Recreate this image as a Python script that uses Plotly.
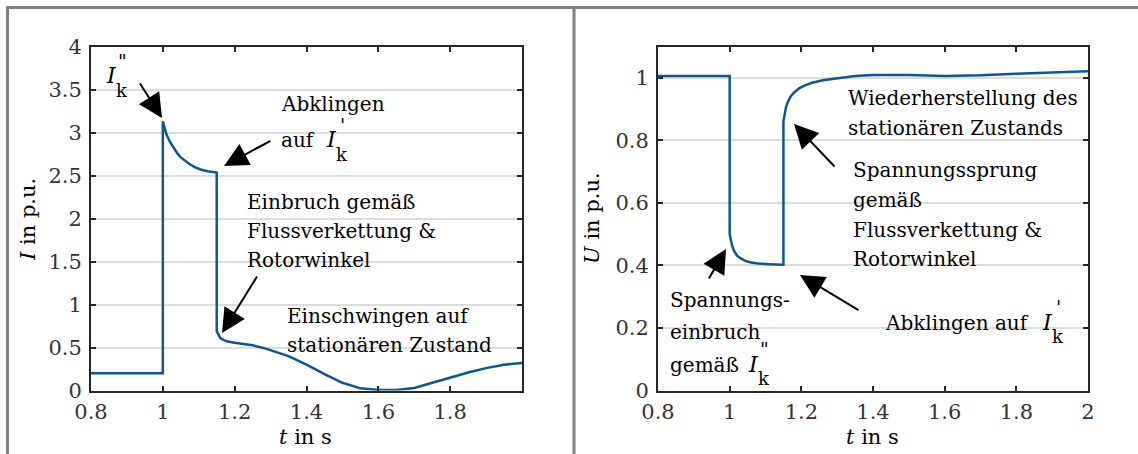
import plotly.graph_objects as go

# ---------------- data ----------------
t_current = [0.8, 0.9, 1.0, 1.0, 1.005, 1.01, 1.02, 1.03, 1.04, 1.05, 1.06, 1.075, 1.09, 1.105,
             1.125, 1.15, 1.15, 1.155, 1.16, 1.17, 1.18, 1.2, 1.22, 1.25, 1.28, 1.3, 1.35, 1.4,
             1.45, 1.5, 1.55, 1.6, 1.65, 1.7, 1.75, 1.8, 1.85, 1.9, 1.95, 2.0]
i_current = [0.2, 0.2, 0.2, 3.13, 3.05, 2.98, 2.89, 2.82, 2.76, 2.71, 2.675, 2.63, 2.595, 2.57,
             2.55, 2.535, 0.69, 0.64, 0.61, 0.585, 0.57, 0.555, 0.545, 0.525, 0.495, 0.47, 0.40, 0.30,
             0.19, 0.09, 0.025, 0.005, 0.005, 0.03, 0.09, 0.15, 0.21, 0.26, 0.30, 0.32]

t_voltage = [0.8, 0.9, 1.0, 1.0, 1.003, 1.007, 1.012, 1.02, 1.03, 1.045, 1.06, 1.08, 1.11, 1.15,
             1.15, 1.153, 1.157, 1.162, 1.17, 1.18, 1.195, 1.21, 1.23, 1.26, 1.3, 1.35, 1.4, 1.5,
             1.6, 1.7, 1.8, 1.9, 2.0]
u_voltage = [1.006, 1.006, 1.006, 0.50, 0.48, 0.462, 0.447, 0.432, 0.423, 0.414, 0.409, 0.406, 0.404, 0.402,
             0.86, 0.885, 0.905, 0.922, 0.94, 0.953, 0.967, 0.976, 0.984, 0.992, 0.999, 1.006, 1.009, 1.009,
             1.006, 1.008, 1.013, 1.017, 1.021]

x_ticks_left = [0.8, 1.0, 1.2, 1.4, 1.6, 1.8]
x_ticks_right = [0.8, 1.0, 1.2, 1.4, 1.6, 1.8, 2.0]
y_ticks_left = [0, 0.5, 1, 1.5, 2, 2.5, 3, 3.5, 4]
y_ticks_right = [0, 0.2, 0.4, 0.6, 0.8, 1.0]

# ---------------- layout helpers ----------------
W, H = 1138, 454
LINE_COLOR = "#0f5591"
AX_COLOR = "#262626"
GRID_COLOR = "#dcdcdc"
SERIF = "DejaVu Serif"
ANN_SIZE = 20
TICK_SIZE = 21
SUP_SIZE = 19
SUB_SIZE = 18


def px(x):
    return x / W


def py(y):
    return 1 - y / H


fig = go.Figure()
fig.add_trace(go.Scatter(x=t_current, y=i_current, mode="lines",
                         line=dict(color=LINE_COLOR, width=2.5), xaxis="x", yaxis="y",
                         showlegend=False, hoverinfo="skip"))
fig.add_trace(go.Scatter(x=t_voltage, y=u_voltage, mode="lines",
                         line=dict(color=LINE_COLOR, width=2.5), xaxis="x2", yaxis="y2",
                         showlegend=False, hoverinfo="skip"))

axis_common = dict(showline=True, linecolor=AX_COLOR, linewidth=2, mirror="ticks",
                   ticks="inside", ticklen=5, tickwidth=2, tickcolor=AX_COLOR,
                   zeroline=False, tickfont=dict(family=SERIF, size=TICK_SIZE, color="#333333"))

y_dom = [py(390.5), py(46.5)]
fig.update_layout(
    width=W, height=H, margin=dict(l=0, r=0, t=0, b=0, autoexpand=False),
    paper_bgcolor="white", plot_bgcolor="white",
    xaxis=dict(domain=[px(91), px(522)], range=[0.8, 2.0], tickvals=x_ticks_left,
               showgrid=False, anchor="y", ticklabelstandoff=1, **axis_common),
    yaxis=dict(domain=y_dom, range=[0, 4], tickvals=y_ticks_left, showgrid=True,
               gridcolor=GRID_COLOR, gridwidth=2, anchor="x", ticklabelstandoff=3, **axis_common),
    xaxis2=dict(domain=[px(658), px(1088)], range=[0.8, 2.0], tickvals=x_ticks_right,
                showgrid=False, anchor="y2", ticklabelstandoff=1, **axis_common),
    yaxis2=dict(domain=y_dom, range=[0, 1.1], tickvals=y_ticks_right, showgrid=True,
                gridcolor=GRID_COLOR, gridwidth=2, anchor="x2", ticklabelstandoff=3, **axis_common),
)

# outer frame (gray)
FRAME = "#808080"
fig.add_shape(type="line", xref="paper", yref="paper", x0=px(6), x1=1, y0=py(7.5), y1=py(7.5),
              line=dict(color=FRAME, width=3))
fig.add_shape(type="line", xref="paper", yref="paper", x0=px(7.5), x1=px(7.5), y0=py(6), y1=0,
              line=dict(color=FRAME, width=3))
fig.add_shape(type="line", xref="paper", yref="paper", x0=px(574), x1=px(574), y0=py(6), y1=0,
              line=dict(color=FRAME, width=3))

annotations = []


def text(s, x, y, size=ANN_SIZE, xanchor="left", italic=False, angle=0):
    if italic:
        s = "<i>" + s + "</i>"
    annotations.append(dict(text=s, xref="paper", yref="paper", x=px(x), y=py(y),
                            xanchor=xanchor, yanchor="middle", showarrow=False, textangle=angle,
                            borderpad=0,
                            font=dict(family=SERIF, size=size, color="black")))


def arrow(tail, tip):
    annotations.append(dict(text="", xref="paper", yref="paper", x=px(tip[0]), y=py(tip[1]),
                            ax=tail[0] - tip[0], ay=tail[1] - tip[1], showarrow=True,
                            arrowhead=2, arrowsize=2.4, arrowwidth=2, arrowcolor="black",
                            standoff=0, startstandoff=0))


def ik(x, y, mark):
    """italic I with stacked prime mark and subscript k"""
    text("I", x, y, size=22, xanchor="center", italic=True)
    text(mark, x + 11, y - 15, size=SUP_SIZE, xanchor="center")
    text("k", x + 11, y + 14, size=SUB_SIZE, xanchor="center")


# ---- left panel ----
ik(111, 76, '"')
arrow((139, 82), (162, 118))

text("Abklingen", 280, 104)
text("auf", 280, 140)
ik(331, 140, "'")
arrow((272, 140), (224, 166))

text("Einbruch gemäß", 246, 202)
text("Flussverkettung &amp;", 246, 231)
text("Rotorwinkel", 246, 260)
arrow((258, 275), (222, 333))

text("Einschwingen auf", 286, 316)
text("stationären Zustand", 286, 345)

# ---- right panel ----
text("Wiederherstellung des", 847, 98)
text("stationären Zustands", 847, 128)
arrow((836, 168), (794, 124))

text("Spannungssprung", 852, 170)
text("gemäß", 852, 200)
text("Flussverkettung &amp;", 852, 230)
text("Rotorwinkel", 852, 259)

text("Abklingen auf", 884, 323)
ik(1047, 322, "'")
arrow((860, 311), (800, 275))

text("Spannungs-", 669, 300)
text("einbruch", 669, 332)
text("gemäß", 669, 365)
ik(753, 364, '"')
arrow((708, 280), (726, 249))

# ---- axis titles ----
text("<i>I</i> in p.u.", 28, 220, size=21, xanchor="center", angle=-90)
text("<i>t</i> in s", 305, 437, size=21, xanchor="center")
text("<i>U</i> in p.u.", 592, 218, size=21, xanchor="center", angle=-90)
text("<i>t</i> in s", 872, 437, size=21, xanchor="center")

fig.update_layout(annotations=annotations)
fig.write_html("out.html")
